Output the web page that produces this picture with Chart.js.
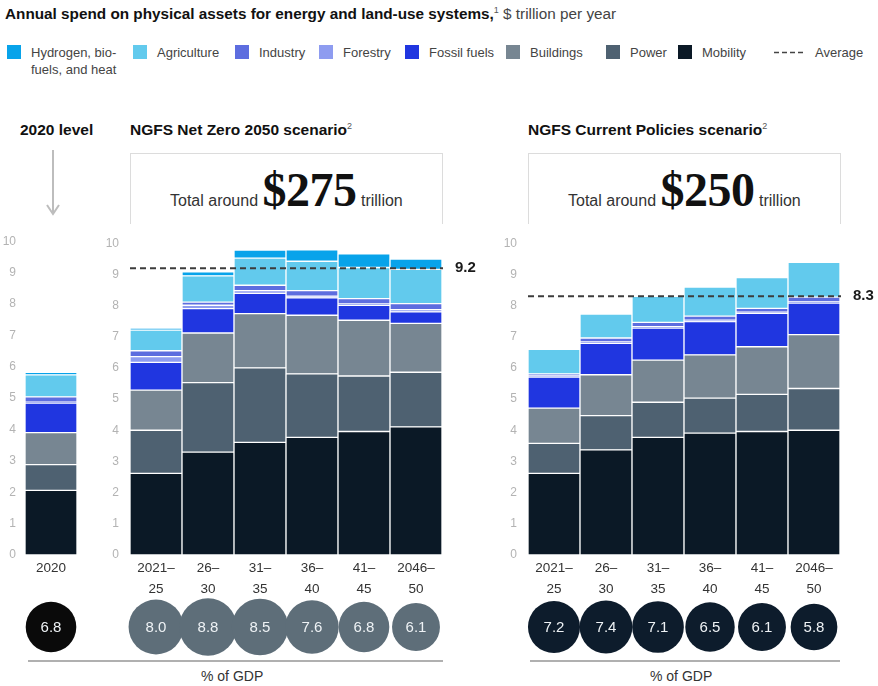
<!DOCTYPE html>
<html lang="en">
<head>
<meta charset="UTF-8">
<title>Annual spend on physical assets</title>
<script src="https://cdn.jsdelivr.net/npm/chart.js"></script>
<style>
  body { margin: 0; background: #fff; font-family: "Liberation Sans", Arial, sans-serif; color: #222; }
  #page { position: relative; width: 878px; height: 686px; overflow: hidden; }
  .abs { position: absolute; white-space: nowrap; }
  #title { left: 5px; top: 5px; font-size: 15.3px; color: #444; }
  #title b { color: #111; }
  sup { font-size: 9px; font-weight: normal; color: #555; }
  .lg { top: 44px; font-size: 13px; color: #444; line-height: 17px; }
  .lg i { position: absolute; left: 0; top: 1px; width: 14px; height: 14px; }
  .lg span { position: absolute; left: 24px; top: 0; }
  .head { top: 121px; font-size: 15.5px; font-weight: bold; color: #111; }
  .box { top: 153px; height: 70px; border: 1.5px solid #dcdcdc; border-bottom: none; }
  .total { top: 162px; font-size: 16px; color: #333; }
  .total em { font-style: normal; font-family: "Liberation Serif", "DejaVu Serif", serif; font-weight: bold; font-size: 48px; color: #111; letter-spacing: -0.5px; }
  .rule { top: 660px; height: 2px; background: #b0b0b0; }
  .gdp { top: 668px; font-size: 14px; color: #333; }
  canvas { position: absolute; }
</style>
</head>
<body>
<div id="page">
  <div id="title" class="abs"><b>Annual spend on physical assets for energy and land-use systems,</b><sup>1</sup> $ trillion per year</div>
  <div id="legend"></div>

  <div class="abs head" style="left:20px">2020 level</div>
  <div class="abs head" style="left:130px">NGFS Net Zero 2050 scenario<sup>2</sup></div>
  <div class="abs head" style="left:528px">NGFS Current Policies scenario<sup>2</sup></div>

  <svg class="abs" style="left:43px;top:148px" width="20" height="70">
    <line x1="10" y1="2" x2="10" y2="64" stroke="#bdbdbd" stroke-width="2"/>
    <polyline points="4,57 10,66 16,57" fill="none" stroke="#bdbdbd" stroke-width="2"/>
  </svg>

  <div class="abs box" style="left:130px;width:311px"></div>
  <div class="abs box" style="left:528px;width:311px"></div>
  <div class="abs total" style="left:170px">Total around <em>$275</em> trillion</div>
  <div class="abs total" style="left:568px">Total around <em>$250</em> trillion</div>

  <canvas id="chart2020" width="100" height="435" style="left:0;top:225px"></canvas>
  <canvas id="chartNetZero" width="390" height="435" style="left:95px;top:225px"></canvas>
  <canvas id="chartCurrent" width="390" height="435" style="left:493px;top:225px"></canvas>

  <div class="abs rule" style="left:28px;width:415px"></div>
  <div class="abs rule" style="left:530px;width:310px"></div>
  <div class="abs gdp" style="left:201px">% of GDP</div>
  <div class="abs gdp" style="left:650px">% of GDP</div>
</div>

<script>
  // series, stacked bottom to top
  const seriesNames = ['Mobility', 'Power', 'Buildings', 'Fossil fuels', 'Forestry', 'Industry', 'Agriculture', 'Hydrogen, bio-fuels, and heat'];
  const seriesColors = ['#0b1926', '#4e6171', '#778692', '#2036e0', '#8e9cf0', '#5d6ddf', '#62caed', '#08a3ea'];

  const periods = [['2021–', '25'], ['26–', '30'], ['31–', '35'], ['36–', '40'], ['41–', '45'], ['2046–', '50']];

  // 2020 level, one value per series ($ trillion)
  const level2020 = [2.06, 0.82, 1.02, 0.94, 0.03, 0.17, 0.70, 0.08];

  // NGFS Net Zero 2050
  const nzMobility = [2.62, 3.30, 3.61, 3.77, 3.96, 4.11];
  const nzPower = [1.38, 2.23, 2.39, 2.04, 1.78, 1.75];
  const nzBuildings = [1.29, 1.59, 1.74, 1.88, 1.79, 1.57];
  const nzFossil = [0.89, 0.78, 0.65, 0.56, 0.48, 0.37];
  const nzForestry = [0.18, 0.11, 0.09, 0.05, 0.04, 0.07];
  const nzIndustry = [0.19, 0.10, 0.17, 0.18, 0.17, 0.19];
  const nzAgriculture = [0.66, 0.84, 0.87, 0.94, 1.00, 1.10];
  const nzHydrogen = [0.07, 0.13, 0.26, 0.37, 0.44, 0.33];

  // NGFS Current Policies
  const cpMobility = [2.62, 3.37, 3.77, 3.91, 3.96, 4.00];
  const cpPower = [0.96, 1.10, 1.13, 1.12, 1.19, 1.34];
  const cpBuildings = [1.13, 1.31, 1.35, 1.39, 1.53, 1.73];
  const cpFossil = [1.00, 1.01, 1.03, 1.07, 1.07, 1.01];
  const cpForestry = [0.03, 0.04, 0.04, 0.04, 0.04, 0.04];
  const cpIndustry = [0.07, 0.13, 0.14, 0.13, 0.12, 0.15];
  const cpAgriculture = [0.79, 0.77, 0.84, 0.93, 0.99, 1.12];
  const cpHydrogen = [0, 0, 0, 0, 0, 0];

  const avgNetZero = 9.2;
  const avgCurrent = 8.3;

  // % of GDP
  const gdp2020 = [6.8];
  const gdpNetZero = [8.0, 8.8, 8.5, 7.6, 6.8, 6.1];
  const gdpCurrent = [7.2, 7.4, 7.1, 6.5, 6.1, 5.8];

  // legend, listed top of stack first
  const legendLeft = [7, 133, 235, 319, 405, 506, 606, 678];
  const legend = document.getElementById('legend');
  seriesNames.slice().reverse().forEach((name, i) => {
    const color = seriesColors[seriesNames.length - 1 - i];
    const label = name.startsWith('Hydrogen') ? 'Hydrogen, bio-<br>fuels, and heat' : name;
    const el = document.createElement('div');
    el.className = 'abs lg';
    el.style.left = legendLeft[i] + 'px';
    el.innerHTML = `<i style="background:${color}"></i><span>${label}</span>`;
    legend.appendChild(el);
  });
  const avgItem = document.createElement('div');
  avgItem.className = 'abs lg';
  avgItem.style.left = '774px';
  avgItem.innerHTML = '<svg width="34" height="17" style="position:absolute;left:0;top:0"><line x1="0" y1="8.5" x2="32" y2="8.5" stroke="#444" stroke-width="1.5" stroke-dasharray="5,3"/></svg><span style="left:41px">Average</span>';
  legend.appendChild(avgItem);

  function makeDatasets(columns) {
    return columns.map((data, i) => ({
      label: seriesNames[i],
      data: data,
      backgroundColor: seriesColors[i],
      borderColor: '#ffffff',
      borderWidth: 1,
      borderSkipped: false,
      barPercentage: 1,
      categoryPercentage: 1
    }));
  }

  // dashed average line with its value at the right end
  function averagePlugin(value) {
    return {
      id: 'average',
      afterDatasetsDraw(chart) {
        const { ctx, chartArea } = chart;
        const y = chart.scales.y.getPixelForValue(value);
        ctx.save();
        ctx.strokeStyle = '#3c3c3c';
        ctx.lineWidth = 2;
        ctx.setLineDash([6, 4]);
        ctx.beginPath();
        ctx.moveTo(chartArea.left, y);
        ctx.lineTo(chartArea.right + 1, y);
        ctx.stroke();
        ctx.setLineDash([]);
        ctx.fillStyle = '#1a1a1a';
        ctx.font = 'bold 15px "Liberation Sans", Arial, sans-serif';
        ctx.textBaseline = 'middle';
        ctx.fillText(value.toFixed(1), chartArea.right + 13, y);
        ctx.restore();
      }
    };
  }

  // % of GDP bubbles under each category, area grows with the value
  function gdpPlugin(values, color) {
    return {
      id: 'gdp',
      afterDraw(chart) {
        const { ctx, chartArea } = chart;
        const cy = chartArea.bottom + 72;
        ctx.save();
        values.forEach((v, i) => {
          const cx = chart.scales.x.getPixelForValue(i);
          const r = 9.7 * Math.sqrt(v);
          ctx.fillStyle = color;
          ctx.beginPath();
          ctx.arc(cx, cy, r, 0, Math.PI * 2);
          ctx.fill();
          ctx.fillStyle = '#eef2f5';
          ctx.font = '15px "Liberation Sans", Arial, sans-serif';
          ctx.textAlign = 'center';
          ctx.textBaseline = 'middle';
          ctx.fillText(v.toFixed(1), cx, cy + 1);
        });
        ctx.restore();
      }
    };
  }

  function makeChart(id, labels, columns, opts) {
    const plugins = [gdpPlugin(opts.gdp, opts.bubble)];
    if (opts.avg !== undefined) plugins.push(averagePlugin(opts.avg));
    return new Chart(document.getElementById(id), {
      type: 'bar',
      data: { labels: labels, datasets: makeDatasets(columns) },
      plugins: plugins,
      options: {
        responsive: false,
        animation: false,
        layout: { padding: { top: 12, right: opts.right, bottom: 60, left: 0 } },
        plugins: { legend: { display: false }, tooltip: { enabled: false } },
        scales: {
          x: {
            stacked: true,
            grid: { display: false, drawTicks: false },
            border: { display: false },
            ticks: { color: '#333', font: { size: 13.5, lineHeight: 1.55 }, padding: 3, maxRotation: 0, autoSkip: false },
            afterFit: s => { s.height = 45; }
          },
          y: {
            stacked: true,
            min: 0,
            max: 10,
            grid: { display: false, drawTicks: false },
            border: { display: false },
            ticks: { stepSize: 1, color: '#b3b3b3', font: { size: 12 }, padding: opts.tickPad },
            afterFit: s => { s.width = opts.axis; }
          }
        }
      }
    });
  }

  makeChart('chart2020', ['2020'], level2020.map(v => [v]),
    { gdp: gdp2020, bubble: '#0a0a0a', right: 23, axis: 25, tickPad: 9 });

  makeChart('chartNetZero', periods,
    [nzMobility, nzPower, nzBuildings, nzFossil, nzForestry, nzIndustry, nzAgriculture, nzHydrogen],
    { gdp: gdpNetZero, bubble: '#5e6e79', avg: avgNetZero, right: 43, axis: 35, tickPad: 11 });

  makeChart('chartCurrent', periods,
    [cpMobility, cpPower, cpBuildings, cpFossil, cpForestry, cpIndustry, cpAgriculture, cpHydrogen],
    { gdp: gdpCurrent, bubble: '#0d1c2c', avg: avgCurrent, right: 43, axis: 35, tickPad: 11 });
</script>
</body>
</html>
